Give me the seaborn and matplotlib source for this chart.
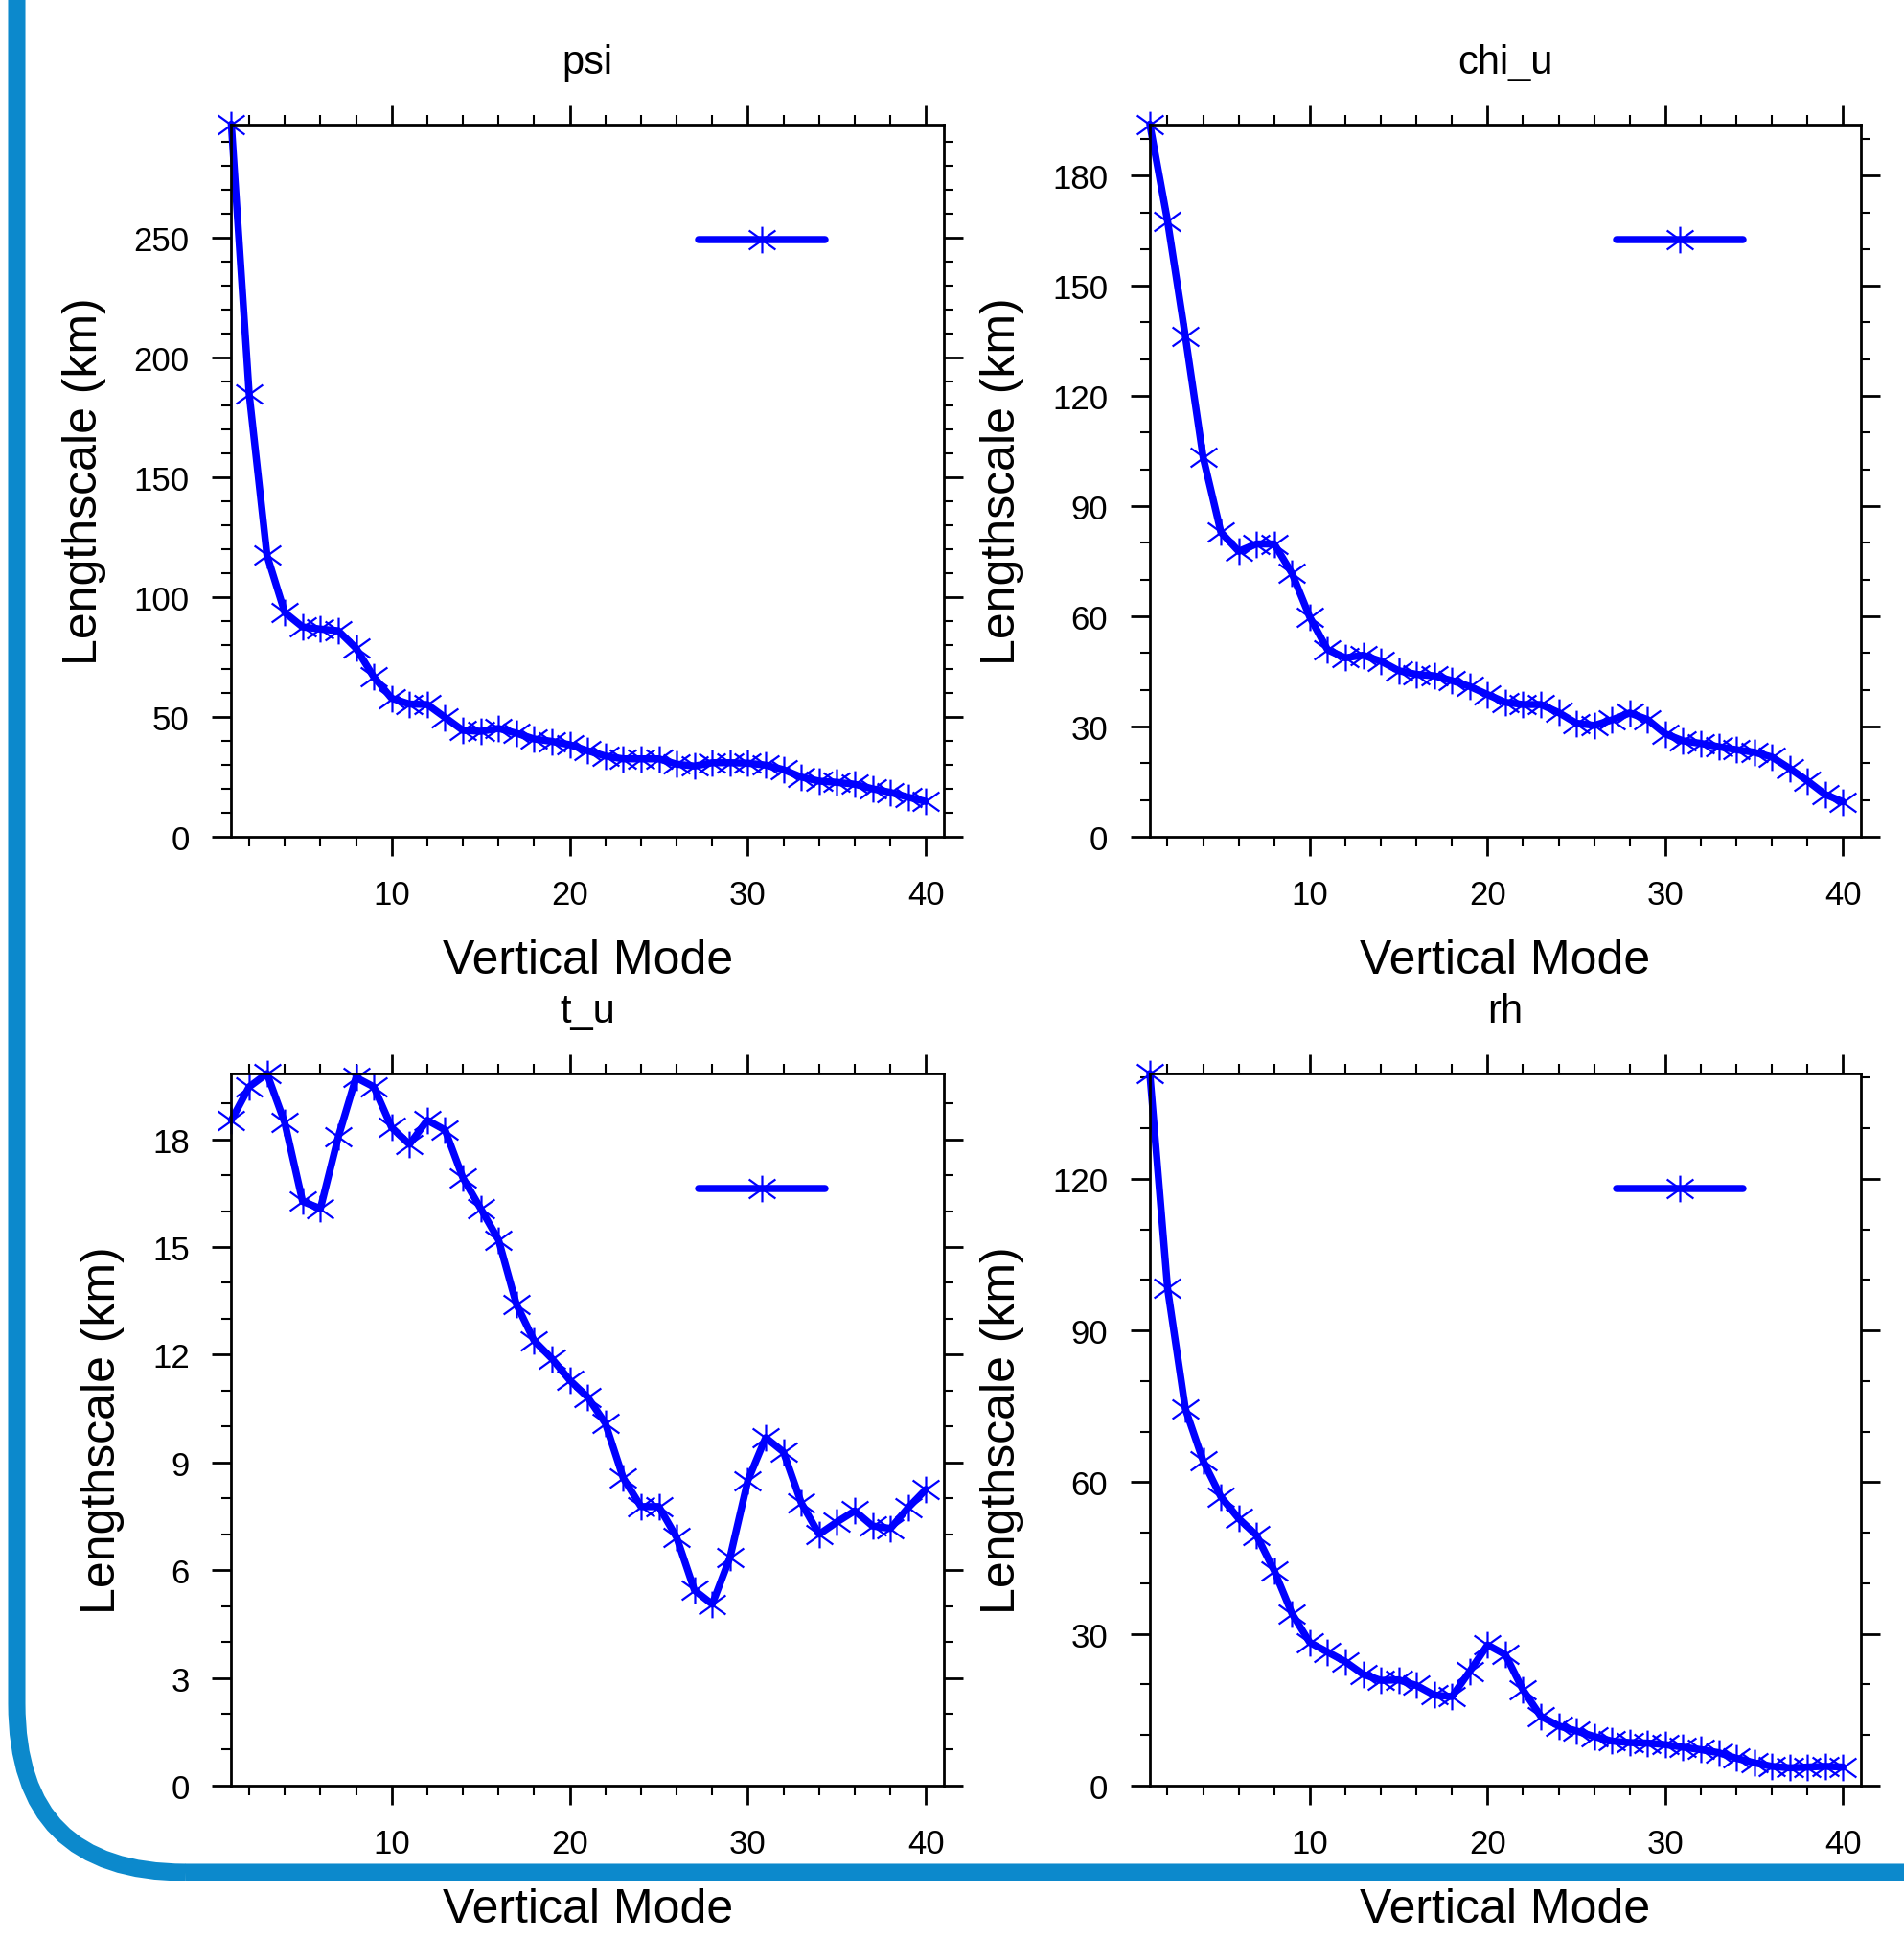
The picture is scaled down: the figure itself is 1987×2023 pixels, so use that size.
import warnings
warnings.filterwarnings("ignore")
import matplotlib
matplotlib.use('Agg')
import numpy as np
import matplotlib.pyplot as plt
import seaborn as sns
from matplotlib.path import Path
from matplotlib.patches import FancyBboxPatch
from matplotlib.ticker import MultipleLocator

# =====================================================
#  DATOS
# =====================================================
modes = list(range(1, 41))

psi = [297.5, 185.0, 117.5, 93.6, 87.6, 86.7, 86.0, 78.7, 66.7, 57.8,
       55.4, 55.2, 49.8, 44.4, 44.0, 45.2, 43.2, 40.8, 39.8, 38.4,
       35.9, 33.7, 32.5, 32.5, 32.5, 30.3, 29.5, 30.9, 30.9, 30.7,
       29.9, 28.0, 24.9, 23.2, 22.7, 21.9, 20.0, 18.5, 16.5, 14.7]

chi_u = [194.0, 167.6, 136.2, 103.3, 82.9, 77.7, 79.7, 79.7, 71.7, 59.8,
         50.9, 48.7, 49.4, 47.8, 45.2, 44.2, 43.8, 42.5, 40.9, 38.7,
         36.6, 36.0, 36.0, 33.8, 30.9, 30.3, 31.8, 33.7, 31.9, 28.0,
         26.1, 25.4, 24.5, 23.7, 23.0, 21.7, 18.6, 15.2, 11.5, 9.5]

t_u = [18.53, 19.46, 19.83, 18.46, 16.27, 16.07, 18.06, 19.72, 19.46, 18.33,
       17.86, 18.53, 18.26, 16.93, 16.07, 15.20, 13.41, 12.39, 11.89, 11.29,
       10.82, 10.09, 8.57, 7.77, 7.77, 6.91, 5.44, 5.05, 6.36, 8.50,
       9.69, 9.29, 7.87, 7.00, 7.34, 7.65, 7.23, 7.16, 7.74, 8.25]

rh = [140.8, 98.3, 74.5, 64.2, 57.1, 52.8, 49.5, 42.5, 34.0, 28.3,
      26.4, 24.5, 22.0, 20.8, 20.9, 19.8, 17.9, 17.6, 22.6, 27.8,
      25.9, 18.9, 13.7, 11.8, 10.8, 9.7, 8.8, 8.5, 8.4, 8.1,
      7.6, 7.1, 6.5, 5.4, 4.5, 3.8, 3.5, 3.66, 3.8, 3.66]

titles = ["psi", "chi_u", "t_u", "rh"]
series = [psi, chi_u, t_u, rh]
y_major = [50, 30, 3, 30]
y_minor = [10, 10, 1, 10]

# =====================================================
#  ESTILO
# =====================================================
sns.set_style("ticks")
plt.rcParams['font.family'] = ['Liberation Sans', 'DejaVu Sans']
plt.rcParams.update({
    'text.color': 'black', 'axes.labelcolor': 'black',
    'xtick.color': 'black', 'ytick.color': 'black',
    'axes.edgecolor': 'black',
})

W, H = 1987, 2024
fig = plt.figure(figsize=(W / 100, H / 100), dpi=100)

# marco azul redondeado (solo lados izquierdo e inferior visibles)
bg = fig.add_axes([0, 0, 1, 1], zorder=-1)
bg.set_xlim(0, W)
bg.set_ylim(0, H)
bg.axis('off')
bg.add_patch(FancyBboxPatch((17.5, 69.5), 4000, 4000,
                            boxstyle="round,pad=0,rounding_size=176",
                            fill=False, ec="#0c89cc", lw=13))

# marcador asterisco estilo NCL
star = Path([(0, -1), (0, 1), (-1, -0.72), (1, 0.72), (-1, 0.72), (1, -0.72)],
            [Path.MOVETO, Path.LINETO, Path.MOVETO, Path.LINETO, Path.MOVETO, Path.LINETO])

positions = [
    [0.1215, 0.5682, 0.3742, 0.3673],
    [0.6039, 0.5682, 0.3734, 0.3673],
    [0.1215, 0.0791, 0.3742, 0.3670],
    [0.6039, 0.0791, 0.3734, 0.3670],
]

for pos, title, vals, maj, mnr in zip(positions, titles, series, y_major, y_minor):
    ax = fig.add_axes(pos)
    sns.lineplot(x=modes, y=vals, ax=ax, color="blue", lw=5.4,
                 marker=star, markersize=20, markeredgewidth=1.6,
                 markeredgecolor="blue", markerfacecolor="none",
                 solid_capstyle="round", solid_joinstyle="round", legend=False)
    line = ax.lines[0]
    line.set_clip_on(False)

    ax.set_xlim(1, 41)
    ax.set_ylim(0, max(vals))
    ax.xaxis.set_major_locator(MultipleLocator(10))
    ax.xaxis.set_minor_locator(MultipleLocator(2))
    ax.yaxis.set_major_locator(MultipleLocator(maj))
    ax.yaxis.set_minor_locator(MultipleLocator(mnr))

    for s in ax.spines.values():
        s.set_linewidth(2)
        s.set_visible(True)
        s.set_color('black')
    ax.tick_params(which='both', direction='out', top=True, right=True,
                   labeltop=False, labelright=False, labelsize=25,
                   colors='black')
    ax.tick_params(which='major', length=14.4, width=2, pad=17)
    ax.tick_params(which='minor', length=7.2, width=1.5)

    ax.set_title(title, fontsize=30, y=1.0726, pad=0, color='black')
    ax.set_xlabel("Vertical Mode", fontsize=36, labelpad=21, color='black')
    ax.set_ylabel("Lengthscale (km)", fontsize=36, labelpad=21, color='black')

    # leyenda sin texto
    ax.legend(handles=[line], labels=[""], loc="center left",
              bbox_to_anchor=(0.656, 0.835), frameon=False, borderpad=0,
              borderaxespad=0, handletextpad=0, handlelength=3.8,
              numpoints=1, fontsize=25)

fig.savefig("out.png", dpi=100)
plt.close(fig)
